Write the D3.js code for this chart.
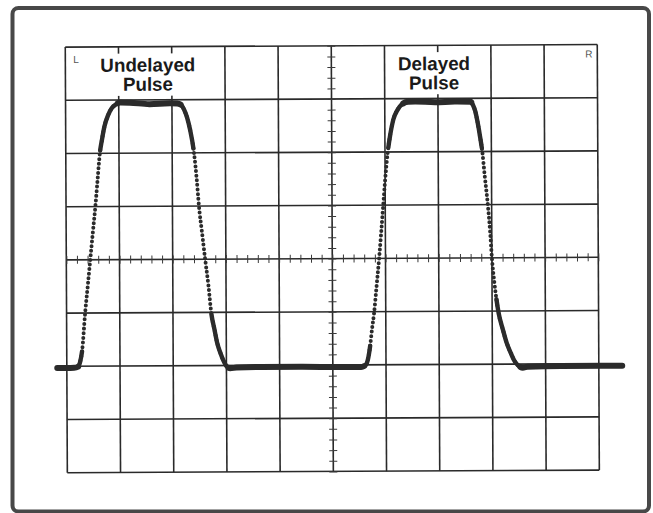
<!DOCTYPE html>
<html>
<head>
<meta charset="utf-8">
<script src="https://cdn.jsdelivr.net/npm/d3@7"></script>
<style>
  html, body { margin: 0; padding: 0; background: #fff; }
  svg { display: block; }
</style>
</head>
<body>
<script>
// Scope trace, in graticule divisions: time (horizontal) and amplitude (vertical, 0 = centre line)
const traceTime = [
  -0.18, 0.00, 0.14, 0.21, 0.25, 0.29, 0.35, 0.40, 0.45, 0.50, 0.55, 0.595, 0.64, 0.68, 0.73, 0.80, 0.87, 0.95, 1.02,
  1.21, 1.58, 1.96, 2.10,
  2.175, 2.23, 2.285, 2.34, 2.41, 2.46, 2.50, 2.555, 2.61, 2.67, 2.72, 2.78, 2.83, 2.89, 2.95, 3.00, 3.07, 3.19,
  3.65, 4.40, 5.15, 5.53,
  5.62, 5.66, 5.70, 5.74, 5.78, 5.83, 5.88, 5.92, 5.96, 6.00, 6.05, 6.10, 6.16, 6.24, 6.33, 6.44,
  6.57, 6.95, 7.32, 7.61,
  7.66, 7.70, 7.74, 7.79, 7.83, 7.87, 7.93, 7.97, 8.00, 8.05, 8.12, 8.20, 8.27, 8.35, 8.42, 8.50, 8.57, 8.66,
  9.29, 10.04, 10.44
];
const traceVolts = [
  -2.03, -2.03, -2.03, -2.01, -1.92, -1.70, -0.99, -0.50, 0.00, 0.50, 0.99, 1.50, 2.00, 2.25, 2.51, 2.72, 2.85, 2.92, 2.955,
  2.95, 2.92, 2.935, 2.93,
  2.90, 2.81, 2.66, 2.43, 2.00, 1.49, 0.98, 0.49, 0.00, -0.50, -1.01, -1.33, -1.58, -1.77, -1.92, -2.01, -2.05, -2.04,
  -2.03, -2.03, -2.04, -2.04,
  -2.00, -1.90, -1.67, -1.33, -1.03, -0.52, 0.00, 0.47, 0.97, 1.47, 1.98, 2.32, 2.61, 2.79, 2.90, 2.94,
  2.945, 2.93, 2.94, 2.935,
  2.87, 2.76, 2.57, 2.27, 1.99, 1.57, 0.98, 0.48, 0.00, -0.52, -1.03, -1.35, -1.60, -1.80, -1.95, -2.04, -2.07, -2.05,
  -2.04, -2.04, -2.04
];

// Graticule: 10 x 8 divisions, 5 minor marks per division on the centre lines
const timeDivisions = d3.range(0, 11);
const voltDivisions = d3.range(-4, 5);
const minorPerDivision = 5;

// Captions over the two pulses, and the channel marks in the top corners
const pulseLabels = [["Undelayed", "Pulse"], ["Delayed", "Pulse"]];
const pulseLabelTimes = [1.55, 6.93];
const cornerMarks = ["L", "R"];

const W = 653, H = 513;
const svg = d3.select("body").append("svg").attr("width", W).attr("height", H);
svg.append("rect").attr("width", W).attr("height", H).attr("fill", "#fff");

// photo frame
svg.append("rect")
  .attr("x", 12.5).attr("y", 8).attr("width", 636.5).attr("height", 503.5)
  .attr("rx", 6)
  .attr("fill", "none").attr("stroke", "#484848").attr("stroke-width", 4);

const x = d3.scaleLinear().domain([0, 10]).range([66.3, 598.3]);
const y = d3.scaleLinear().domain([-4, 4]).range([471.4, 45.8]);

const g = svg.append("g").attr("transform", `rotate(-0.28 ${x(5)} ${y(0)})`);

const gridColor = "#2a2a2a";

// major graticule lines
g.append("g").selectAll("line").data(timeDivisions).join("line")
  .attr("x1", d => x(d)).attr("x2", d => x(d))
  .attr("y1", y(4)).attr("y2", y(-4))
  .attr("stroke", gridColor).attr("stroke-width", 1.6);
g.append("g").selectAll("line").data(voltDivisions).join("line")
  .attr("y1", d => y(d)).attr("y2", d => y(d))
  .attr("x1", x(0)).attr("x2", x(10))
  .attr("stroke", gridColor).attr("stroke-width", 1.6);

// minor marks on the centre lines, drawn as axes with blank labels
const minorTime = d3.range(0, 10 * minorPerDivision + 1).map(i => i / minorPerDivision);
const minorVolt = d3.range(-4 * minorPerDivision, 4 * minorPerDivision + 1).map(i => i / minorPerDivision);
const tickLen = 8;
const hAxis = g.append("g")
  .attr("transform", `translate(0,${y(0) - tickLen / 2})`)
  .call(d3.axisBottom(x).tickValues(minorTime).tickSize(tickLen).tickFormat(""));
const vAxis = g.append("g")
  .attr("transform", `translate(${x(5) + tickLen / 2},0)`)
  .call(d3.axisLeft(y).tickValues(minorVolt).tickSize(tickLen).tickFormat(""));
[hAxis, vAxis].forEach(a => {
  a.select(".domain").remove();
  a.selectAll(".tick line").attr("stroke", "#3a3a3a").attr("stroke-width", 1);
});

// pulse captions on white plates
const labelFont = "'Liberation Sans', Arial, Helvetica, sans-serif";
pulseLabels.forEach((lines, i) => {
  const lg = g.append("g");
  const plate = lg.append("rect").attr("fill", "#fff");
  const txt = lg.append("text")
    .attr("font-family", labelFont).attr("font-weight", "bold").attr("font-size", 18.8)
    .attr("fill", "#1a1a1a").attr("text-anchor", "middle");
  lines.forEach((s, j) => {
    txt.append("tspan").attr("x", x(pulseLabelTimes[i])).attr("y", y(4) + 24.8 + j * 19.2).text(s);
  });
  const b = txt.node().getBBox();
  plate.attr("x", b.x - 3).attr("y", b.y - 1).attr("width", b.width + 6).attr("height", b.height + 2);
});

// L / R channel marks
g.append("text").attr("x", x(0) + 8).attr("y", y(4) + 16)
  .attr("font-family", labelFont).attr("font-size", 10).attr("fill", "#555").text(cornerMarks[0]);
g.append("text").attr("x", x(10) - 12).attr("y", y(4) + 13)
  .attr("font-family", labelFont).attr("font-size", 10).attr("fill", "#555").text(cornerMarks[1]);

// the trace
const pts = traceTime.map((t, i) => [t, traceVolts[i]]);
const line = d3.line().x(d => x(d[0])).y(d => y(d[1])).curve(d3.curveMonotoneX);
const traceColor = "#2b2b2b";
const traceG = g.append("g");
const traceD = line(pts);

// fast edges show the individual samples as dots
traceG.append("path").attr("d", traceD)
  .attr("fill", "none").attr("stroke", traceColor).attr("stroke-width", 4)
  .attr("stroke-linecap", "round").attr("stroke-dasharray", "0 4.6");

// where the beam moves slowly the samples merge into a solid band;
// the band is widest on the flat tops and the baseline
const slowBand = traceG.append("path").attr("d", traceD)
  .attr("fill", "none").attr("stroke", traceColor).attr("stroke-width", 4.4)
  .attr("stroke-linecap", "round").attr("stroke-linejoin", "round");
const flatBand = traceG.append("path").attr("d", traceD)
  .attr("fill", "none").attr("stroke", traceColor).attr("stroke-width", 6)
  .attr("stroke-linecap", "round").attr("stroke-linejoin", "round");

// walk the drawn path and measure how steep it is at each step
const node = slowBand.node();
const total = node.getTotalLength();
const step = 0.5;
const slopes = [];
let prev = node.getPointAtLength(0);
for (let s = step; s <= total + 1e-6; s += step) {
  const p = node.getPointAtLength(Math.min(s, total));
  slopes.push(Math.abs(p.y - prev.y) / Math.max(Math.abs(p.x - prev.x), 1e-6));
  prev = p;
}

// dash pattern that is drawn where keep(slope) holds; short runs are absorbed
function dashFor(keep, minRun) {
  const runs = [];
  slopes.forEach(k => {
    const on = keep(k);
    const last = runs[runs.length - 1];
    if (last && last.on === on) last.len += step;
    else runs.push({ on, len: step });
  });
  // fold short runs into their neighbours
  for (let i = 1; i < runs.length - 1; i++) {
    if (runs[i].len < minRun) {
      runs[i - 1].len += runs[i].len + runs[i + 1].len;
      runs.splice(i, 2);
      i--;
    }
  }
  const dash = [];
  if (runs.length && !runs[0].on) dash.push(0);
  runs.forEach(r => dash.push(r.len));
  if (dash.length % 2 === 1) dash.push(0);
  return dash.join(" ");
}
slowBand.attr("stroke-dasharray", dashFor(k => k < 7.5, 10));
flatBand.attr("stroke-dasharray", dashFor(k => k < 0.6, 6));
</script>
</body>
</html>
